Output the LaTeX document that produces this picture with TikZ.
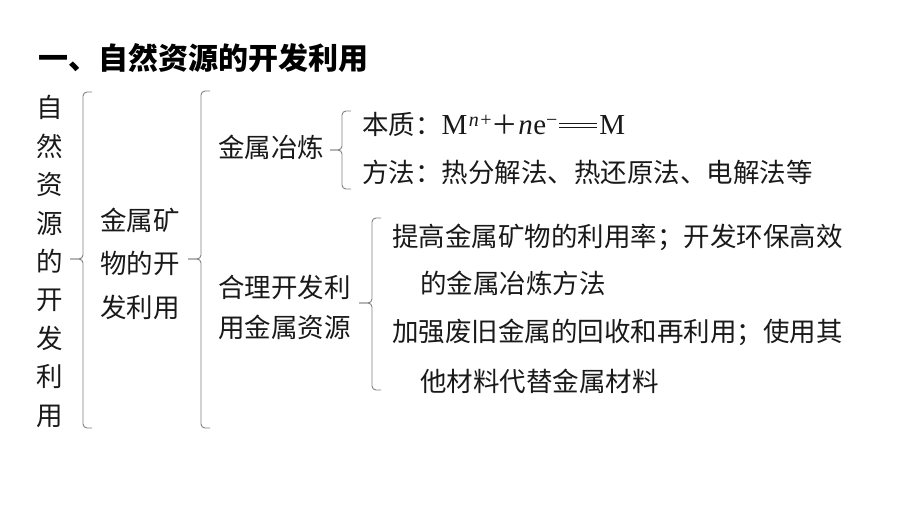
\documentclass[tikz,border=0pt]{standalone}
\usepackage{fontspec}
\setmainfont{Noto Sans CJK SC}
\newfontfamily\tnr{Liberation Serif}

% brace: x, top, middle, bottom, tip
\newcommand{\treebrace}[5]{%
  \draw[bracestyle] ({#1+9},#2) -- (#1,#2) -- (#1,#3) -- (#5,#3);
  \draw[bracestyle] ({#1+9},#4) -- (#1,#4) -- (#1,#3) -- (#5,#3);}
\newcommand{\eqlong}{\kern2pt\rule[6.5pt]{38pt}{1.1pt}\kern-38pt\rule[11pt]{38pt}{1.1pt}\kern2pt}
\newcommand{\supr}[1]{\raisebox{8pt}{\fontsize{20}{20}\selectfont #1}}

\begin{document}
\begin{tikzpicture}[x=1pt, y=-1pt,
    txt/.style={anchor=base west, inner sep=0pt, text=black!90, font=\fontsize{26.5}{30}\selectfont},
    block/.style={anchor=west, inner sep=0pt, align=left, text=black!90},
    bracestyle/.style={draw=black!50, line width=0.9pt, rounded corners=4pt}]
  \useasboundingbox (0,0) rectangle (920,518);

  \node[txt, font=\fontsize{30}{34}\selectfont\bfseries, text=black] (title) at (38,70) {一、自然资源的开发利用};

  \node[inner sep=0pt, align=center, text=black!90, font=\fontsize{26.5}{38.4}\selectfont] (res) at (50,261.5)
    {自\\然\\资\\源\\的\\开\\发\\利\\用};
  \treebrace{83}{92}{259}{428}{70}

  \node[block, font=\fontsize{26.5}{43.5}\selectfont] (ore) at (100,263.5) {金属矿\\物的开\\发利用};
  \treebrace{201}{91}{259}{428}{188}

  \node[txt] (smelt) at (218,158) {金属冶炼};
  \node[block, font=\fontsize{26.5}{40}\selectfont] (use) at (218,307.5) {合理开发利\\用金属资源};

  \treebrace{342}{111}{150}{189}{330}
  \node[txt] (essence) at (362,135)
    {本质：{\tnr\fontsize{29}{30}\selectfont M\kern1.5pt\supr{\textit{n}\kern1.5pt+}}＋{\tnr\fontsize{29}{30}\selectfont\textit{n}\kern0.5pt e\supr{−}\eqlong M}};
  \node[txt] (method) at (362,183) {方法：热分解法、热还原法、电解法等};

  \treebrace{372}{218}{303}{390}{359}
  \node[txt] (rate) at (392,247) {提高金属矿物的利用率；开发环保高效};
  \node[txt] (rate2) at (420,294) {的金属冶炼方法};
  \node[txt] (recycle) at (392,341) {加强废旧金属的回收和再利用；使用其};
  \node[txt] (recycle2) at (420,391) {他材料代替金属材料};
\end{tikzpicture}
\end{document}
